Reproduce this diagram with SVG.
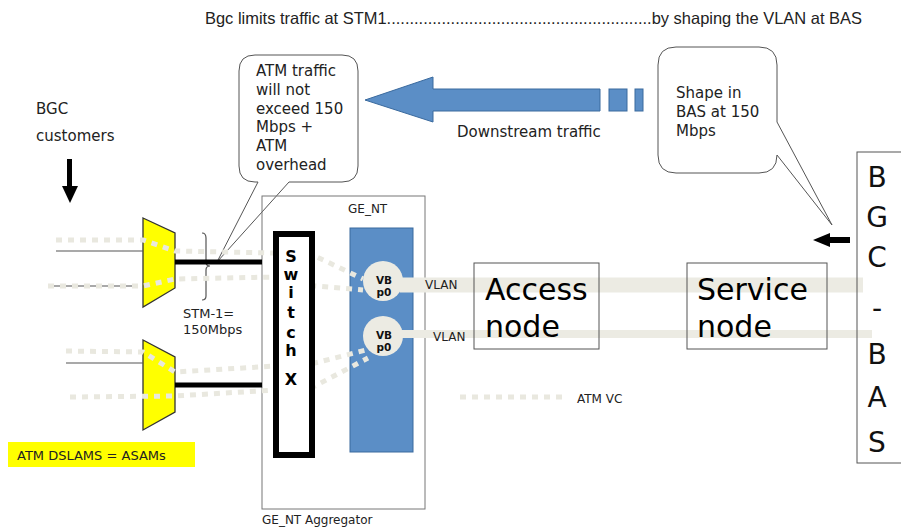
<svg xmlns="http://www.w3.org/2000/svg" width="901" height="529" viewBox="0 0 901 529">
<style>
text{font-family:"DejaVu Sans","Verdana",sans-serif;fill:#222}
.t15{font-size:15px}
.t13{font-size:13px}
.t12{font-size:12px}
.big{font-size:30px;fill:#000}
.bas{font-size:28px;fill:#111;text-anchor:middle}
.sw{font-size:16px;font-weight:bold;fill:#000;text-anchor:middle}
.vb{font-size:10.5px;font-weight:bold;fill:#111;text-anchor:middle}
.callout{fill:#fff;stroke:#555;stroke-width:1}
.box{fill:none;stroke:#555;stroke-width:1}
.blue{fill:#5b8ec6;stroke:#3a6a9e;stroke-width:1}
.mux{fill:#ffff00;stroke:#333;stroke-width:1.3}
.dot{fill:none;stroke:#e9e8df;stroke-width:5;stroke-dasharray:6 6}
.thin{stroke:#555;stroke-width:1.2;fill:none}
.thick{stroke:#000;stroke-width:5;fill:none}
.bar{stroke:#ecebe3;fill:none}
.circ{fill:#ecebe3}
</style>

<g id="title">
<text x="205" y="24" style="font-family:'Liberation Sans',Arial,sans-serif;font-size:16.5px" textLength="657" lengthAdjust="spacingAndGlyphs">Bgc limits traffic at STM1..........................................................by shaping the VLAN at BAS</text>
</g>

<g id="callout-atm">
<path class="callout" d="M255,55 H342 Q358,55 358,71 V166 Q358,182 342,182 H289 L217,262 L258,182 H255 Q239,182 239,166 V71 Q239,55 255,55 Z"/>
<text class="t15" x="256" y="76">ATM traffic</text>
<text class="t15" x="256" y="95">will not</text>
<text class="t15" x="256" y="114">exceed 150</text>
<text class="t15" x="256" y="132">Mbps +</text>
<text class="t15" x="256" y="151">ATM</text>
<text class="t15" x="256" y="170">overhead</text>
</g>

<g id="callout-shape">
<path class="callout" d="M676,47 H759 Q777,47 777,65 V122 L832,225 L777,155 Q777,173 759,173 H676 Q658,173 658,155 V65 Q658,47 676,47 Z"/>
<text class="t15" x="676" y="98">Shape in</text>
<text class="t15" x="676" y="117">BAS at 150</text>
<text class="t15" x="676" y="136">Mbps</text>
</g>

<g id="downstream-arrow">
<polygon class="blue" points="365,100 433,77 433,89 600,89 600,111 433,111 433,122"/>
<rect class="blue" x="609" y="89" width="18" height="22"/>
<rect class="blue" x="635" y="89" width="8" height="22"/>
<text class="t15" x="457" y="137">Downstream traffic</text>
</g>

<g id="bgc-customers">
<text class="t15" x="36" y="114">BGC</text>
<text class="t15" x="36" y="141">customers</text>
<rect x="67" y="159" width="5" height="28" fill="#000"/>
<polygon points="62,186 78,186 70,203" fill="#000"/>
</g>

<g id="ge-nt-aggregator">
<rect x="262" y="196" width="163" height="313" fill="none" stroke="#777" stroke-width="1"/>
<text class="t12" x="262" y="524">GE_NT Aggregator</text>
</g>

<g id="ge-nt">
<rect class="blue" x="350" y="228" width="63" height="224"/>
<text class="t12" x="348" y="213">GE_NT</text>
</g>

<g id="mux1">
<polygon class="mux" points="143,218 175,233 175,288 143,307"/>
</g>
<g id="mux2">
<polygon class="mux" points="143,340 175,357 175,412 143,430"/>
</g>

<g id="stm1-label">
<path class="thin" d="M202,233 Q206,233 206,238 L206,262 Q206,266 210,266 Q206,266 206,270 L206,296 Q206,300 202,300"/>
<text class="t13" x="183" y="318">STM-1=</text>
<text class="t13" x="183" y="334">150Mbps</text>
</g>

<g id="connectors">
<path class="bar" stroke-width="15" d="M400,285 H863"/>
<path class="bar" stroke-width="8" d="M400,334 H872"/>
<path class="thin" d="M56,251 H143"/>
<path class="thin" d="M48,286 H135"/>
<path class="thin" d="M66,363 H143"/>
<path class="thick" d="M175,262 H262"/>
<path class="thick" d="M175,385 H262"/>
<path class="dot" d="M56,240 L143,240 L175,251 L276,253 L317,257 L363,279"/>
<path class="dot" d="M48,286 L143,286 L175,279 L276,277 L315,286 L363,290"/>
<path class="dot" d="M66,351 L143,352 L175,372 L276,366 L315,363 L366,350"/>
<path class="dot" d="M70,397 L175,396 L276,390 L315,386 L368,358"/>
<path class="dot" d="M460,397 H568"/>
</g>

<g id="switch">
<rect x="276" y="234" width="36" height="221" fill="#fff" stroke="#000" stroke-width="6"/>
<text class="sw" x="291" y="262">S</text>
<text class="sw" x="291" y="280">w</text>
<text class="sw" x="291" y="298">i</text>
<text class="sw" x="291" y="318">t</text>
<text class="sw" x="291" y="338">c</text>
<text class="sw" x="291" y="356">h</text>
<text class="sw" x="291" y="385">X</text>
</g>

<g id="vbp0-1">
<circle class="circ" cx="383" cy="281" r="20"/>
<text class="vb" x="384" y="284">VB</text>
<text class="vb" x="384" y="296">p0</text>
</g>
<g id="vbp0-2">
<circle class="circ" cx="383" cy="336" r="20"/>
<text class="vb" x="384" y="339">VB</text>
<text class="vb" x="384" y="351">p0</text>
</g>

<g id="vlan-labels">
<text class="t12" x="425" y="289">VLAN</text>
<text class="t12" x="433" y="341">VLAN</text>
<text class="t12" x="577" y="403">ATM VC</text>
</g>

<g id="access-node">
<rect class="box" x="474" y="263" width="125" height="86"/>
<text class="big" x="485" y="300">Access</text>
<text class="big" x="485" y="337">node</text>
</g>

<g id="service-node">
<rect class="box" x="687" y="263" width="140" height="86"/>
<text class="big" x="697" y="300">Service</text>
<text class="big" x="697" y="337">node</text>
</g>

<g id="bgc-bas">
<rect class="box" x="857" y="152" width="60" height="311"/>
<text class="bas" x="877" y="187">B</text>
<text class="bas" x="877" y="227">G</text>
<text class="bas" x="877" y="267">C</text>
<text class="bas" x="877" y="318">-</text>
<text class="bas" x="877" y="364">B</text>
<text class="bas" x="877" y="407">A</text>
<text class="bas" x="877" y="452">S</text>
<polygon points="813,240 830,233 830,237 850,237 850,243 830,243 830,247" fill="#000"/>
</g>

<g id="legend">
<rect x="8" y="442" width="187" height="25" fill="#ffff00"/>
<text class="t13" x="17" y="460">ATM DSLAMS = ASAMs</text>
</g>
</svg>
